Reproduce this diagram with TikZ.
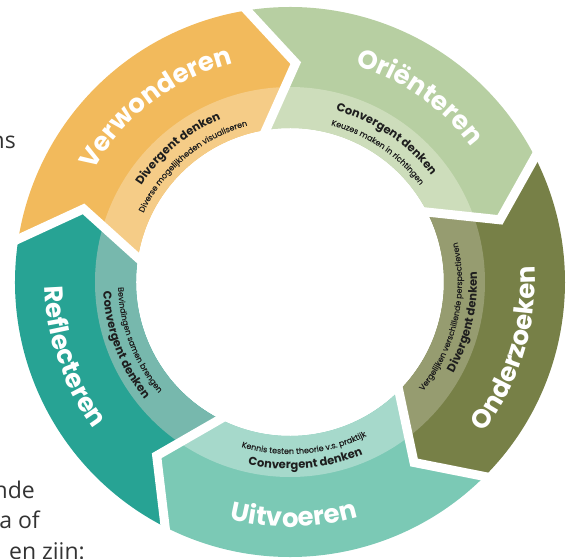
\documentclass[tikz,border=0pt]{standalone}
\usepackage{fontspec}
\usetikzlibrary{decorations.text,calc}
\newfontfamily\pop{Poppins}
\newfontfamily\popsmall{Poppins}[FakeBold=0.3]
\newfontfamily\bodyfont{Open Sans}
\definecolor{vwD}{HTML}{F2BA5C}
\definecolor{vwL}{HTML}{F5CC87}
\definecolor{orD}{HTML}{B7CFA2}
\definecolor{orL}{HTML}{CDDDBB}
\definecolor{ozD}{HTML}{778047}
\definecolor{ozL}{HTML}{969C70}
\definecolor{uvD}{HTML}{7BC9B5}
\definecolor{uvL}{HTML}{A6D9CB}
\definecolor{rfD}{HTML}{27A394}
\definecolor{rfL}{HTML}{77B8AD}
\definecolor{inktext}{HTML}{1E1E1E}
\definecolor{bodygray}{HTML}{333333}
% segment: start angle, end angle (clockwise), dark colour, light colour
\newcommand{\ringsegment}[4]{%
  \fill[#3] (#1:275pt) arc[start angle=#1, end angle=#2, radius=275pt]
    -- ({#2-10.5}:219pt) -- (#2:154pt) arc[start angle=#2, end angle=#1, radius=154pt]
    -- ({#1-10.5}:219pt) -- cycle;
  \begin{scope}
    \clip (#1:275pt) arc[start angle=#1, end angle=#2, radius=275pt]
      -- ({#2-10.5}:219pt) -- (#2:154pt) arc[start angle=#2, end angle=#1, radius=154pt]
      -- ({#1-10.5}:219pt) -- cycle;
    \fill[#4] (0pt,0pt) circle[radius=195pt];
  \end{scope}}
\newcommand{\ringgap}[1]{%
  \draw[white, line width=9pt, line join=miter, line cap=butt]
    ($({#1-10.5}:219pt)!1.3!(#1:275pt)$) -- ({#1-10.5}:219pt)
    -- ($({#1-10.5}:219pt)!1.3!(#1:154pt)$);}
% text along clockwise arc: centre angle, radius, half span, colour, format, text
\newcommand{\cwtext}[6]{%
  \path[decorate, decoration={text along path, text align=center, text color=#4,
     text={|#5|#6}}] ({#1+#3}:#2) arc[start angle={#1+#3}, end angle={#1-#3}, radius=#2];}
\newcommand{\ccwtext}[6]{%
  \path[decorate, decoration={text along path, text align=center, text color=#4,
     text={|#5|#6}}] ({#1-#3}:#2) arc[start angle={#1-#3}, end angle={#1+#3}, radius=#2];}
\newcommand{\bigfont}{\pop\bfseries\fontsize{26pt}{26pt}\selectfont}
\newcommand{\midfont}{\pop\bfseries\fontsize{11.5pt}{12pt}\selectfont}
\newcommand{\smallfont}{\popsmall\fontsize{8pt}{9pt}\selectfont}
\tikzset{bodytext/.style={anchor=base east, inner sep=0pt, text=bodygray,
   font=\bodyfont\fontsize{23pt}{27pt}\selectfont}}
\begin{document}
\begin{tikzpicture}
\useasboundingbox (-290pt,-276pt) rectangle (286pt,282pt);
\clip (-290pt,-276pt) rectangle (286pt,282pt);
% background text fragments
\node[bodytext] (t1) at (-274pt,134pt) {ns};
\node[bodytext] (t2) at (-255pt,-216pt) {nde};
\node[bodytext] (t3) at (-250pt,-246pt) {a of};
\node[bodytext] (t4) at (-205pt,-277pt) {en zijn:};
% ring segments
\ringsegment{171}{99}{vwD}{vwL}
\ringsegment{99}{27}{orD}{orL}
\ringsegment{27}{-45}{ozD}{ozL}
\ringsegment{-45}{-117}{uvD}{uvL}
\ringsegment{-117}{-189}{rfD}{rfL}
% white gaps
\ringgap{99}
\ringgap{27}
\ringgap{-45}
\ringgap{-117}
\ringgap{-189}
% Verwonderen
\cwtext{127.5}{226pt}{45}{white}{\bigfont}{Verwonderen}
\cwtext{130}{177pt}{40}{inktext}{\midfont}{Divergent denken}
\cwtext{130}{162pt}{40}{inktext}{\smallfont}{Diverse mogelijkheden visualiseren}
% Orienteren
\cwtext{55}{226pt}{45}{white}{\bigfont}{Oriënteren}
\cwtext{56}{177pt}{40}{inktext}{\midfont}{Convergent denken}
\cwtext{56}{162pt}{40}{inktext}{\smallfont}{Keuzes maken in richtingen}
% Onderzoeken
\ccwtext{-17}{245pt}{45}{white}{\bigfont}{Onderzoeken}
\ccwtext{-13}{187pt}{40}{inktext}{\midfont}{Divergent denken}
\ccwtext{-13}{172pt}{40}{inktext}{\smallfont}{Vergelijken verschillende perspectieven}
% Uitvoeren
\ccwtext{-89}{245pt}{45}{white}{\bigfont}{Uitvoeren}
\ccwtext{-85}{187pt}{40}{inktext}{\midfont}{Convergent denken}
\ccwtext{-85}{172pt}{40}{inktext}{\smallfont}{Kennis testen theorie v.s. praktijk}
% Reflecteren
\ccwtext{199}{245pt}{45}{white}{\bigfont}{Reflecteren}
\ccwtext{201}{187pt}{40}{inktext}{\midfont}{Convergent denken}
\ccwtext{201}{172pt}{40}{inktext}{\smallfont}{Bevindingen samen brengen}
\end{tikzpicture}
\end{document}
